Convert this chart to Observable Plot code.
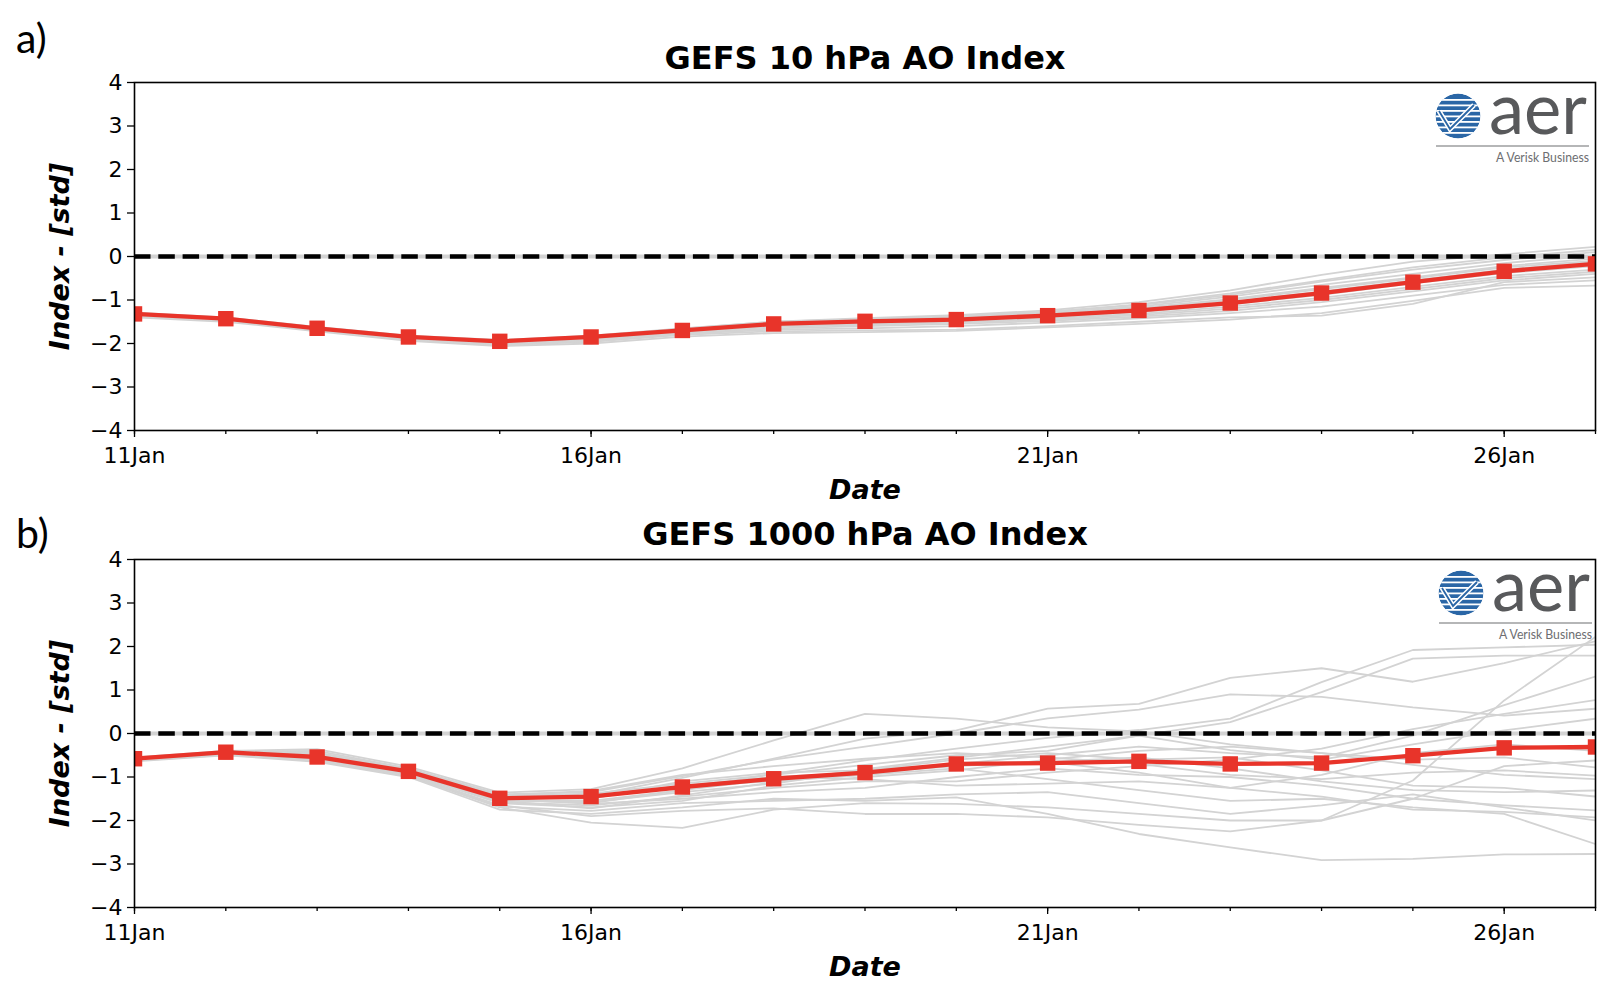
<!DOCTYPE html>
<html><head><meta charset="utf-8">
<script src="https://cdn.jsdelivr.net/npm/d3@7"></script>
<script src="https://cdn.jsdelivr.net/npm/@observablehq/plot@0.6"></script>
<style>
body{margin:0;background:#fff;}
#root{position:relative;width:1612px;height:988px;overflow:hidden;background:#fff;}
.panel{position:absolute;left:0;}
#overlay{position:absolute;left:0;top:0;pointer-events:none;}
</style></head><body><div id="root"></div>
<script>
// ---- data ----
const days = [11,12,13,14,15,16,17,18,19,20,21,22,23,24,25,26,27];
const majorTicks = [11,16,21,26];
const yTicks = [-4,-3,-2,-1,0,1,2,3,4];
const titles = ["GEFS 10 hPa AO Index", "GEFS 1000 hPa AO Index"];
const panelLabels = ["a)", "b)"];
const xLabel = "Date";
const yLabel = "Index - [std]";

// panel a: 10 hPa ensemble mean and members
const meanA = [-1.32,-1.43,-1.65,-1.85,-1.95,-1.85,-1.70,-1.55,-1.49,-1.45,-1.36,-1.24,-1.07,-0.84,-0.59,-0.34,-0.17];
const membersA = [
  [-1.30,-1.41,-1.63,-1.83,-1.93,-1.83,-1.66,-1.50,-1.42,-1.35,-1.24,-1.05,-0.78,-0.42,-0.12,0.05,0.22],
  [-1.33,-1.44,-1.66,-1.87,-1.97,-1.86,-1.70,-1.53,-1.45,-1.38,-1.28,-1.10,-0.85,-0.55,-0.25,-0.02,0.15],
  [-1.35,-1.46,-1.68,-1.89,-2.00,-1.90,-1.74,-1.58,-1.52,-1.47,-1.38,-1.25,-1.05,-0.80,-0.55,-0.30,-0.12],
  [-1.38,-1.48,-1.70,-1.92,-2.04,-1.96,-1.80,-1.72,-1.70,-1.68,-1.60,-1.50,-1.40,-1.36,-1.09,-0.59,-0.48],
  [-1.40,-1.50,-1.72,-1.94,-2.06,-2.00,-1.84,-1.76,-1.74,-1.71,-1.63,-1.55,-1.45,-1.30,-1.02,-0.72,-0.67],
  [-1.31,-1.42,-1.64,-1.85,-1.95,-1.84,-1.68,-1.52,-1.46,-1.40,-1.30,-1.15,-0.92,-0.65,-0.40,-0.15,0.02],
  [-1.34,-1.45,-1.67,-1.88,-1.98,-1.88,-1.72,-1.60,-1.55,-1.50,-1.42,-1.32,-1.15,-0.95,-0.70,-0.45,-0.30],
  [-1.36,-1.47,-1.69,-1.90,-2.01,-1.92,-1.76,-1.65,-1.60,-1.55,-1.48,-1.38,-1.25,-1.05,-0.80,-0.55,-0.40],
  [-1.32,-1.43,-1.65,-1.86,-1.96,-1.85,-1.69,-1.54,-1.48,-1.43,-1.33,-1.18,-0.98,-0.72,-0.48,-0.22,-0.05],
  [-1.29,-1.40,-1.62,-1.82,-1.92,-1.82,-1.65,-1.50,-1.44,-1.37,-1.27,-1.12,-0.88,-0.58,-0.30,-0.08,0.10],
  [-1.37,-1.47,-1.70,-1.91,-2.02,-1.94,-1.78,-1.68,-1.65,-1.60,-1.52,-1.42,-1.30,-1.15,-0.90,-0.65,-0.55],
  [-1.33,-1.44,-1.66,-1.87,-1.97,-1.87,-1.71,-1.56,-1.50,-1.46,-1.38,-1.28,-1.10,-0.88,-0.62,-0.38,-0.22],
  [-1.35,-1.45,-1.67,-1.88,-1.99,-1.89,-1.73,-1.62,-1.57,-1.52,-1.45,-1.35,-1.20,-1.00,-0.75,-0.50,-0.35],
  [-1.30,-1.42,-1.64,-1.84,-1.94,-1.84,-1.67,-1.52,-1.45,-1.40,-1.31,-1.20,-1.00,-0.75,-0.50,-0.25,-0.10]
];

// panel b: 1000 hPa ensemble mean and members
const meanB = [-0.58,-0.43,-0.54,-0.87,-1.49,-1.45,-1.23,-1.04,-0.90,-0.70,-0.68,-0.64,-0.70,-0.68,-0.51,-0.33,-0.31];
const membersB = [
  [-0.55,-0.40,-0.36,-0.76,-1.36,-1.28,-0.80,-0.16,0.45,0.34,0.14,0.05,-0.25,-0.45,-0.72,-0.95,-1.05],
  [-0.60,-0.44,-0.50,-0.86,-1.45,-1.42,-1.02,-0.58,-0.12,0.07,0.57,0.68,1.28,1.50,1.19,1.62,2.12],
  [-0.62,-0.46,-0.55,-0.90,-1.52,-1.60,-1.30,-0.92,-0.62,-0.35,-0.10,0.08,0.34,1.18,1.92,1.98,2.04],
  [-0.58,-0.42,-0.52,-0.88,-1.55,-1.72,-1.42,-1.12,-0.82,-0.56,-0.30,-0.05,0.26,0.95,1.72,1.79,1.79],
  [-0.57,-0.41,-0.45,-0.82,-1.40,-1.35,-0.98,-0.60,-0.30,0.00,0.35,0.55,0.90,0.84,0.60,0.41,0.57],
  [-0.62,-0.48,-0.62,-0.98,-1.70,-2.05,-2.17,-1.75,-1.60,-1.62,-1.70,-1.85,-2.00,-2.00,-1.08,0.76,2.22],
  [-0.60,-0.45,-0.48,-0.84,-1.48,-1.50,-1.10,-0.90,-0.85,-0.70,-0.50,-0.30,-0.45,-0.55,-0.05,0.65,1.31],
  [-0.63,-0.47,-0.58,-0.92,-1.58,-1.65,-1.45,-1.25,-1.10,-1.10,-0.90,-0.75,-0.60,-0.35,0.10,0.45,0.77],
  [-0.59,-0.43,-0.47,-0.84,-1.44,-1.38,-1.15,-0.95,-0.72,-0.50,-0.40,-0.05,-0.38,-0.60,-0.25,0.07,0.34],
  [-0.64,-0.50,-0.65,-1.00,-1.75,-1.85,-1.70,-1.50,-1.55,-1.47,-1.85,-2.31,-2.62,-2.91,-2.88,-2.78,-2.77],
  [-0.61,-0.46,-0.60,-0.95,-1.65,-1.90,-1.78,-1.72,-1.85,-1.85,-1.93,-2.10,-2.25,-2.00,-1.50,-0.75,-0.62],
  [-0.60,-0.45,-0.52,-0.90,-1.55,-1.55,-1.30,-1.05,-0.95,-0.80,-1.05,-1.30,-1.55,-1.50,-1.70,-1.85,-2.54],
  [-0.56,-0.41,-0.40,-0.80,-1.40,-1.45,-1.25,-1.00,-1.05,-1.20,-1.15,-1.10,-1.25,-1.45,-1.75,-1.80,-1.93],
  [-0.58,-0.43,-0.46,-0.86,-1.50,-1.62,-1.50,-1.35,-1.25,-1.00,-0.80,-0.95,-1.00,-1.20,-1.50,-1.65,-1.77],
  [-0.59,-0.44,-0.49,-0.87,-1.47,-1.48,-1.20,-1.10,-0.95,-0.70,-0.65,-0.55,-0.80,-1.10,-1.30,-1.35,-1.31],
  [-0.57,-0.42,-0.44,-0.81,-1.42,-1.32,-0.95,-0.75,-0.58,-0.45,-0.55,-0.70,-0.95,-1.05,-0.90,-0.85,-0.97],
  [-0.62,-0.47,-0.56,-0.93,-1.60,-1.70,-1.55,-1.20,-1.00,-0.85,-0.60,-0.40,-0.30,-0.45,-0.60,-0.55,-0.78],
  [-0.63,-0.49,-0.63,-0.97,-1.68,-1.78,-1.60,-1.55,-1.50,-1.40,-1.35,-1.60,-1.85,-1.65,-1.40,-1.70,-2.00],
  [-0.58,-0.44,-0.47,-0.85,-1.46,-1.44,-1.20,-1.00,-0.90,-0.75,-0.65,-0.90,-1.25,-0.95,-0.45,-0.25,-0.40],
  [-0.61,-0.46,-0.54,-0.89,-1.53,-1.58,-1.35,-1.15,-0.85,-0.60,-0.45,-0.60,-0.55,-0.85,-1.20,-1.25,-1.45]
];

// ---- drawing ----
const RED = "#e8342a";
const GRAY = "#d3d3d3";
const fmtY = d => d < 0 ? "\u2212" + (-d) : String(d);

function panel(mean, members, title, titleDy) {
  const memberRows = members.flatMap((vals, m) => vals.map((v, i) => ({member: m, day: days[i], value: v})));
  const meanRows = mean.map((v, i) => ({day: days[i], value: v}));
  return Plot.plot({
    width: 1612, height: 510,
    marginLeft: 134, marginRight: 17, marginTop: 82, marginBottom: 80,
    style: {fontFamily: "DejaVu Sans", fontSize: "22px", background: "transparent", overflow: "visible", color: "black"},
    x: {type: "linear", domain: [11, 27]},
    y: {domain: [-4, 4]},
    marks: [
      Plot.line(memberRows, {x: "day", y: "value", z: "member", stroke: GRAY, strokeWidth: 1.8, clip: true}),
      Plot.ruleY([0], {stroke: GRAY, strokeWidth: 4}),
      Plot.ruleY([0], {stroke: "black", strokeWidth: 4.5, strokeDasharray: "16.5,7.8"}),
      Plot.line(meanRows, {x: "day", y: "value", stroke: RED, strokeWidth: 4.3, clip: true}),
      Plot.dot(meanRows, {x: "day", y: "value", symbol: "square", r: 8.7, fill: RED, stroke: "none", clip: true}),
      Plot.frame({stroke: "black", strokeWidth: 1.6}),
      Plot.axisY(yTicks, {tickSize: 7, tickPadding: 5, tickFormat: fmtY, fontSize: 22, strokeWidth: 1.3, label: null}),
      Plot.axisX(days, {tickSize: 4, tickFormat: () => "", strokeWidth: 1.3, label: null}),
      Plot.axisX(majorTicks, {tickSize: 7, tickPadding: 10, tickFormat: d => d + "Jan", fontSize: 22, strokeWidth: 1.3, label: null}),
      Plot.text([xLabel], {frameAnchor: "bottom", dy: 60, lineAnchor: "middle", textAnchor: "middle", fontSize: 27, fontWeight: "bold", fontStyle: "italic"}),
      Plot.text([yLabel], {frameAnchor: "left", dx: -74.5, rotate: -90, lineAnchor: "middle", textAnchor: "middle", fontSize: 27, fontWeight: "bold", fontStyle: "italic"}),
      Plot.text([title], {frameAnchor: "top", dy: titleDy, lineAnchor: "middle", textAnchor: "middle", fontSize: 32, fontWeight: "bold"})
    ]
  });
}

const root = document.getElementById("root");
const tops = [0, 477];
const plots = [panel(meanA, membersA, titles[0], -24), panel(meanB, membersB, titles[1], -25)];
plots.forEach((p, i) => {
  const d = document.createElement("div");
  d.className = "panel";
  d.style.top = tops[i] + "px";
  d.appendChild(p);
  root.appendChild(d);
});

// overlay: panel letters and logos
function logo(id, tx, ty) {
  const cx = 1458, cy = 116, r = 22.5;
  let stripes = "";
  [-16, -10.5, -5, 0.5, 6, 11.5, 17].forEach(o => {
    stripes += `<rect x="${cx - r}" y="${cy + o - 1}" width="${2 * r}" height="1.8" fill="#fff"/>`;
  });
  return `<g transform="translate(${tx},${ty})">
    <defs><clipPath id="${id}"><circle cx="${cx}" cy="${cy}" r="${r}"/></clipPath></defs>
    <g clip-path="url(#${id})">
      <circle cx="${cx}" cy="${cy}" r="${r}" fill="#2a66a6"/>
      ${stripes}
    </g>
    <polyline points="${cx - 19},${cy - 5} ${cx - 8},${cy + 13} ${cx + 16},${cy - 11}" fill="none" stroke="#fff" stroke-width="5" stroke-linejoin="miter"/>
    <polyline points="${cx - 19},${cy - 5} ${cx - 8},${cy + 13} ${cx + 16},${cy - 11}" fill="none" stroke="#2a66a6" stroke-width="1.8"/>
    <text x="1489" y="134" font-family="Lato" font-weight="400" font-size="72" fill="#58595b" textLength="98" lengthAdjust="spacingAndGlyphs">aer</text>
    <line x1="1436" x2="1589" y1="146" y2="146" stroke="#6d6e71" stroke-width="1.2"/>
    <text x="1496" y="162" font-family="Lato" font-weight="400" font-size="12.5" fill="#6d6e71" textLength="93" lengthAdjust="spacingAndGlyphs">A Verisk Business</text>
  </g>`;
}
const ov = document.createElement("div");
ov.id = "overlay";
ov.innerHTML = `<svg xmlns="http://www.w3.org/2000/svg" width="1612" height="988">
  <text x="16" y="53" font-family="Lato" font-size="41" fill="#000">${panelLabels[0]}</text>
  <text x="16" y="548" font-family="Lato" font-size="41" fill="#000">${panelLabels[1]}</text>
  ${logo("clipA", 0, 0)}
  ${logo("clipB", 3, 477)}
</svg>`;
root.appendChild(ov);
</script>
</body></html>
